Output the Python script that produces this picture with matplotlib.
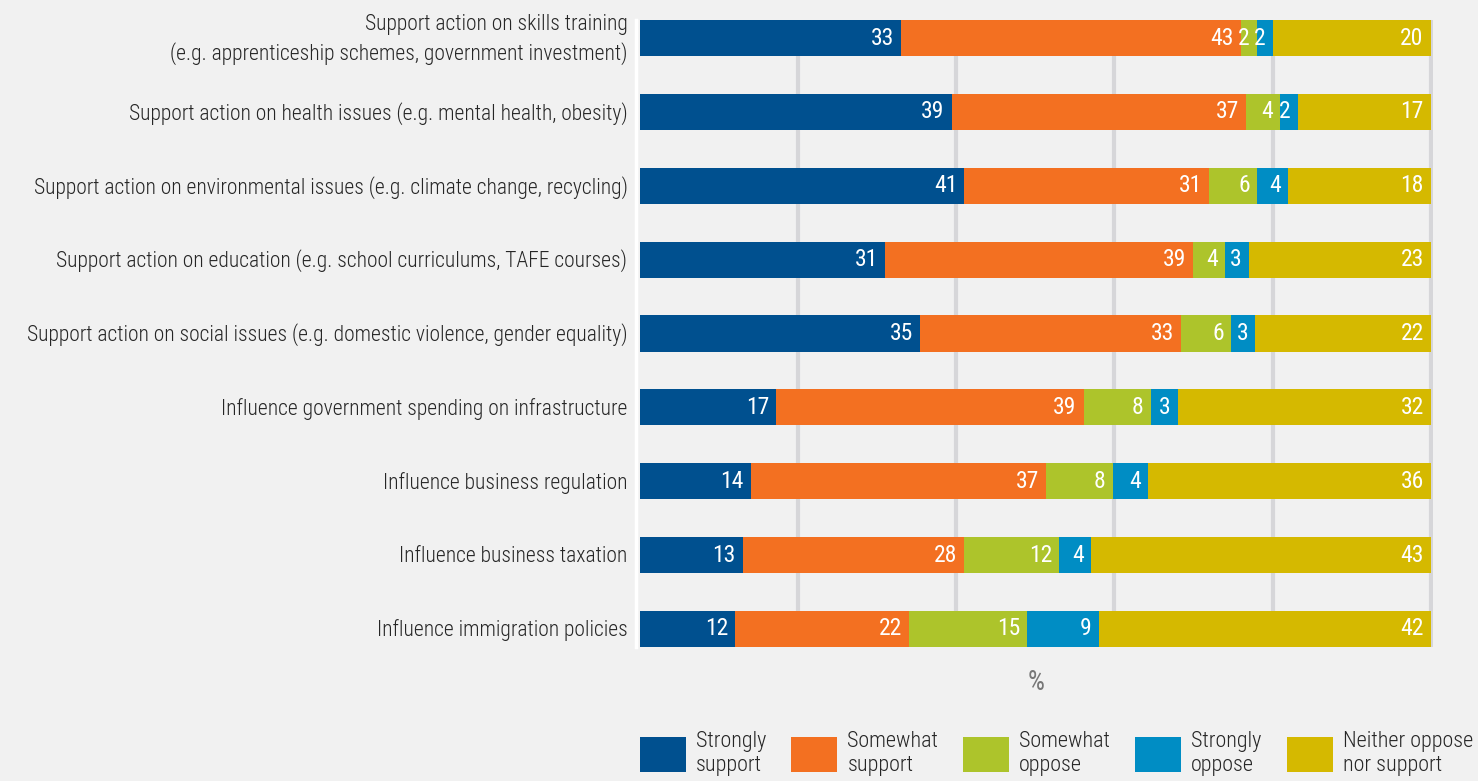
import matplotlib
matplotlib.use("Agg")
import matplotlib.pyplot as plt
from matplotlib import font_manager
from matplotlib.patches import Patch
import numpy as np

# look for a narrow sans, the original uses a condensed face
names = {f.name for f in font_manager.fontManager.ttflist}
family = "DejaVu Sans"
for cand in ["Roboto Condensed", "Liberation Sans Narrow", "Open Sans Condensed",
             "Arial Narrow", "Noto Sans Condensed"]:
    if cand in names:
        family = cand
        break
else:
    plt.rcParams['font.stretch'] = 'condensed'
plt.rcParams['font.family'] = [family, 'DejaVu Sans']

categories = [
    "Support action on skills training\n(e.g. apprenticeship schemes, government investment)",
    "Support action on health issues (e.g. mental health, obesity)",
    "Support action on environmental issues (e.g. climate change, recycling)",
    "Support action on education (e.g. school curriculums, TAFE courses)",
    "Support action on social issues (e.g. domestic violence, gender equality)",
    "Influence government spending on infrastructure",
    "Influence business regulation",
    "Influence business taxation",
    "Influence immigration policies",
]
series_names = ["Strongly\nsupport", "Somewhat\nsupport", "Somewhat\noppose",
                "Strongly\noppose", "Neither oppose\nnor support"]
# printed (rounded) values
strongly_support = [33, 39, 41, 31, 35, 17, 14, 13, 12]
somewhat_support = [43, 37, 31, 39, 33, 39, 37, 28, 22]
somewhat_oppose = [2, 4, 6, 4, 6, 8, 8, 12, 15]
strongly_oppose = [2, 2, 4, 3, 3, 3, 4, 4, 9]
neither = [20, 17, 18, 23, 22, 32, 36, 43, 42]
# bar lengths (rows always fill to 100)
strongly_support_w = [33, 39.4, 41, 31, 35.4, 17.2, 14.0, 13, 12]
somewhat_support_w = [43, 37.3, 31, 39, 33.0, 38.9, 37.4, 28, 22]
somewhat_oppose_w = [2, 4.3, 6, 4, 6.3, 8.5, 8.4, 12, 15]
strongly_oppose_w = [2, 2.2, 4, 3, 3.1, 3.4, 4.4, 4, 9]
neither_w = [20, 16.8, 18, 23, 22.2, 32.0, 35.8, 43, 42]
colors = ["#00508f", "#f37021", "#adc42b", "#008dc4", "#d5b900"]

bg = "#f1f1f1"
fig = plt.figure(figsize=(14.78, 7.81), dpi=100, facecolor=bg)
ax = fig.add_axes([640 / 1478, 1 - 647 / 781, 793 / 1478, 627 / 781])
ax.set_facecolor(bg)

# pick a font size so the longest category label is as wide as in the original (~609 px)
probe = fig.text(0, 0, categories[4], fontsize=15, fontweight="light")
fig.canvas.draw()
fs = min(15.5, 15 * 609 / probe.get_window_extent().width)
probe.remove()
vfs = fs * 1.1

y = np.arange(len(categories))
h = 0.49
left = np.zeros(len(categories))
handles = []
for vals, labs, col, name in zip(
        [strongly_support_w, somewhat_support_w, somewhat_oppose_w, strongly_oppose_w, neither_w],
        [strongly_support, somewhat_support, somewhat_oppose, strongly_oppose, neither],
        colors, series_names):
    vals = np.array(vals, dtype=float)
    ax.barh(y, vals, left=left, height=h, color=col, zorder=2)
    for yi, l, v, lab in zip(y, left, vals, labs):
        ax.annotate(str(lab), xy=(l + v, yi), xytext=(-5, 0), textcoords="offset points",
                    ha="right", va="center", color="white", fontsize=vfs, zorder=3)
    left += vals
    handles.append(Patch(facecolor=col, label=name))

ax.set_xlim(0, 100.3)
ax.set_ylim(len(categories) - 1 + h / 2, -h / 2)
ax.set_xticks([20, 40, 60, 80, 100])
ax.grid(axis="x", color="#d6d6d9", linewidth=3, zorder=0)
ax.set_axisbelow(True)
ax.tick_params(axis="x", length=0, labelbottom=False)
ax.set_yticks([])
# category labels (drawn as texts so the two-line one can get wider line spacing)
for yi, cat in zip(y, categories):
    ax.annotate(cat, xy=(0, yi), xycoords=("axes fraction", "data"), xytext=(-9, -1),
                textcoords="offset points", ha="right", va="center", multialignment="right",
                fontsize=fs, fontweight="light", color="#262626", linespacing=1.4)
for s in ["top", "right", "bottom"]:
    ax.spines[s].set_visible(False)
ax.spines["left"].set_color("white")
ax.spines["left"].set_linewidth(2.5)
ax.spines["left"].set_position(("outward", 3))
ax.set_xlabel("%", color="#777777", fontsize=fs * 1.25, labelpad=16)

fig.legend(handles=handles, loc="lower left",
           bbox_to_anchor=(640 / 1478, 5 / 781, 833 / 1478, 0.05), mode="expand",
           ncol=5, frameon=False, fontsize=fs * 1.03, handlelength=46 / (fs * 1.03 * 100 / 72),
           handleheight=46 / (fs * 1.03 * 100 / 72), handletextpad=0.45,
           labelcolor="#262626", borderpad=0, borderaxespad=0)
for t in fig.legends[0].get_texts():
    t.set_fontweight("light")

fig.savefig("out.png", dpi=100, facecolor=bg)
